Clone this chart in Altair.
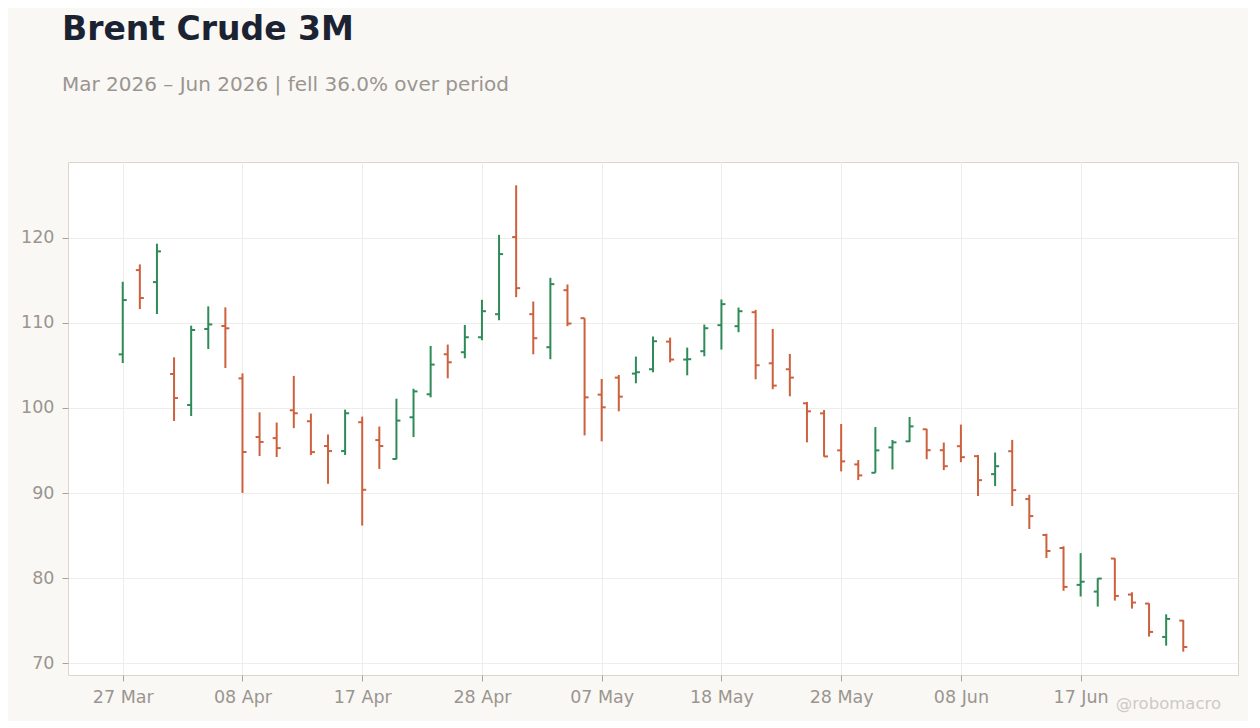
import altair as alt
import pandas as pd

# OHLC values (one bar per trading day)
opens = [106.30, 116.20, 114.79, 103.99, 100.35, 109.28, 109.63, 103.48, 96.59, 96.46,
         99.73, 98.44, 95.53, 94.94, 98.33, 96.23, 94.01, 98.91, 101.61, 106.31,
         106.55, 108.31, 111.02, 120.08, 111.02, 107.14, 113.84, 110.55, 101.57, 103.57,
         104.04, 104.55, 107.80, 105.69, 106.67, 109.73, 109.61, 111.25, 105.25, 104.55,
         100.55, 99.37, 95.02, 93.37, 92.39, 95.37, 96.08, 97.50, 95.04, 95.51,
         94.34, 92.23, 94.92, 89.30, 85.08, 83.55, 79.22, 78.43, 82.31, 78.08,
         77.02, 73.10, 75.02]
highs = [114.83, 116.87, 119.30, 105.95, 109.67, 111.94, 111.82, 104.07, 99.49, 98.29,
         103.77, 99.34, 96.89, 99.81, 98.99, 97.82, 101.09, 102.26, 107.29, 107.45,
         109.76, 112.71, 120.35, 126.16, 112.51, 115.29, 114.51, 110.55, 103.41, 103.88,
         106.04, 108.39, 108.27, 107.10, 109.80, 112.75, 111.80, 111.53, 109.29, 106.35,
         100.71, 99.76, 98.12, 93.88, 97.76, 96.24, 98.94, 97.54, 95.94, 98.05,
         94.49, 94.77, 96.25, 89.80, 85.23, 83.75, 82.95, 80.00, 82.35, 78.35,
         77.06, 75.76, 75.10]
lows = [105.28, 111.62, 111.04, 98.47, 99.06, 106.93, 104.70, 90.02, 94.36, 94.24,
        97.63, 94.47, 91.09, 94.47, 86.19, 92.84, 93.97, 96.58, 101.25, 103.49,
        105.84, 107.96, 110.31, 113.02, 106.31, 105.73, 109.61, 96.78, 96.08, 99.61,
        102.90, 104.20, 105.37, 103.84, 106.08, 106.86, 108.90, 103.37, 102.20, 101.37,
        95.96, 94.27, 92.55, 91.53, 92.39, 92.78, 96.00, 93.98, 92.70, 93.63,
        89.65, 90.82, 88.48, 85.78, 82.38, 78.52, 77.85, 76.67, 77.37, 76.43,
        73.14, 72.08, 71.37]
closes = [112.68, 112.92, 118.40, 101.17, 109.16, 109.82, 109.36, 94.83, 96.01, 95.29,
          99.38, 94.82, 94.94, 99.38, 90.39, 95.53, 98.52, 101.95, 105.10, 105.37,
          108.31, 111.37, 118.08, 114.08, 108.20, 114.55, 109.92, 101.25, 100.08, 101.33,
          104.20, 107.84, 105.69, 105.73, 109.37, 112.20, 111.37, 105.02, 102.63, 103.57,
          99.61, 94.31, 93.73, 92.08, 95.02, 95.96, 97.84, 95.04, 93.16, 94.22,
          91.52, 93.16, 90.35, 87.30, 83.20, 78.98, 79.59, 79.96, 77.92, 77.14,
          73.69, 75.22, 71.92]

tick_labels = ["27 Mar", "08 Apr", "17 Apr", "28 Apr", "07 May",
               "18 May", "28 May", "08 Jun", "17 Jun"]
tick_step = 7
y_ticks = [70, 80, 90, 100, 110, 120]

GREEN = "#2e8b57"
RED = "#cd603d"
BG = "#f9f8f5"
LABEL = "#9b958f"

df = pd.DataFrame({
    "i": list(range(len(opens))),
    "open": opens, "high": highs, "low": lows, "close": closes,
})
df["dir"] = ["up" if c >= o else "down" for o, c in zip(opens, closes)]

label_expr = ("[" + ",".join("'%s'" % t for t in tick_labels) + "]"
              "[round(datum.value / %d)]" % tick_step)

x_enc = alt.X("i:Q",
              scale=alt.Scale(domain=[-3.2, 65.2], nice=False, zero=False),
              axis=alt.Axis(values=[k * tick_step for k in range(len(tick_labels))],
                            labelExpr=label_expr, title=None))
y_scale = alt.Scale(domain=[68.63, 128.9], nice=False, zero=False)
color_enc = alt.Color("dir:N", scale=alt.Scale(domain=["up", "down"], range=[GREEN, RED]),
                      legend=None)

base = alt.Chart(df).encode(x=x_enc, color=color_enc)

wicks = base.mark_rule(strokeWidth=2).encode(
    y=alt.Y("low:Q", scale=y_scale, axis=alt.Axis(values=y_ticks, title=None)),
    y2="high:Q",
)
open_ticks = base.mark_tick(orient="horizontal", size=4, thickness=2, xOffset=-2,
                            opacity=1).encode(y=alt.Y("open:Q", scale=y_scale))
close_ticks = base.mark_tick(orient="horizontal", size=4, thickness=2, xOffset=2,
                             opacity=1).encode(y=alt.Y("close:Q", scale=y_scale))

mark_df = pd.DataFrame({"t": ["@robomacro"]})
watermark = alt.Chart(mark_df).mark_text(
    align="right", baseline="alphabetic", fontSize=16.5, color="#cfcac4", font="DejaVu Sans"
).encode(x=alt.value(1153), y=alt.value(547), text="t:N")

chart = alt.layer(wicks, open_ticks, close_ticks, watermark).properties(
    width=1170,
    height=513,
    background=BG,
    padding={"left": 12, "top": 6, "right": 10, "bottom": 8},
    title=alt.Title(
        "Brent Crude 3M",
        subtitle="Mar 2026 – Jun 2026 | fell 36.0% over period",
        anchor="start",
        frame="group",
        dx=-6,
        offset=67,
        font="DejaVu Sans",
        fontSize=33,
        fontWeight="bold",
        color="#1b2333",
        subtitleFont="DejaVu Sans",
        subtitleFontSize=20,
        subtitleColor=LABEL,
        subtitlePadding=28,
    ),
).configure_view(
    fill="white", stroke="#ddd5cc", strokeWidth=1
).configure_axis(
    labelFont="DejaVu Sans",
    labelFontSize=17.5,
    labelColor=LABEL,
    tickColor="#a8a29c",
    tickSize=6,
    domain=False,
    gridColor="#efedea",
    gridWidth=1,
).configure_axisY(
    labelPadding=8,
).configure_axisX(
    labelPadding=7,
)

chart.save("out.html", embed_options={"renderer": "svg", "actions": False})
